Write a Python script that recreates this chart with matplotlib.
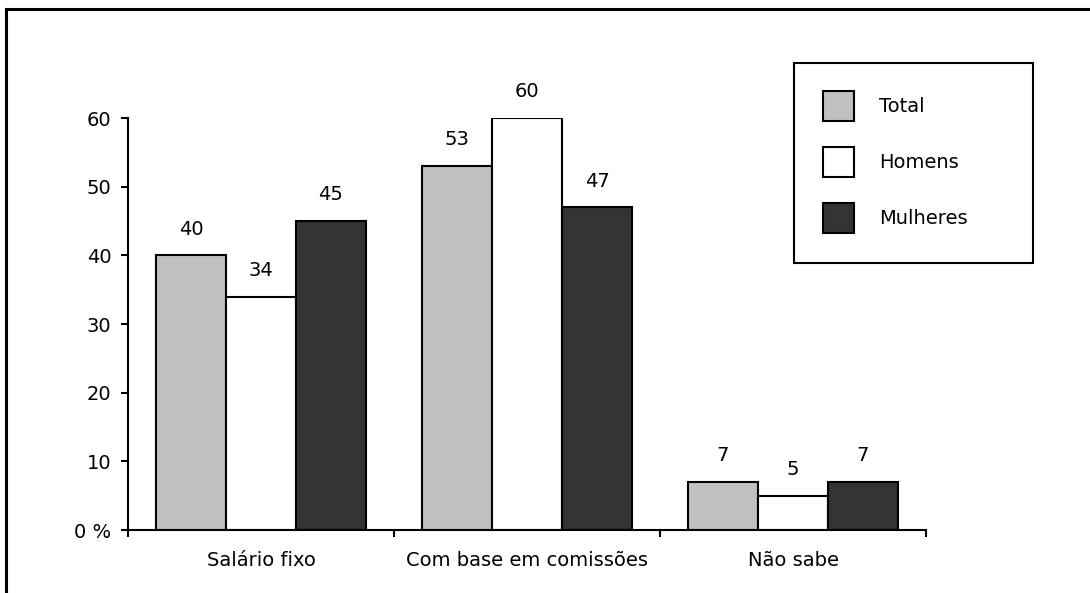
import matplotlib
matplotlib.use("Agg")
import matplotlib.pyplot as plt
from matplotlib.patches import Rectangle, Patch
from matplotlib.lines import Line2D
import numpy as np

categories = ["Salário fixo", "Com base em comissões", "Não sabe"]
series_names = ["Total", "Homens", "Mulheres"]
total = [40, 53, 7]
homens = [34, 60, 5]
mulheres = [45, 47, 7]
y_ticks = [0, 10, 20, 30, 40, 50, 60]
y_tick_labels = ["0 %", "10", "20", "30", "40", "50", "60"]

colors = ["#c0c0c0", "#ffffff", "#333333"]

plt.rcParams["font.family"] = ["DejaVu Sans"]
plt.rcParams["font.size"] = 14

W, H = 1090, 593
fig = plt.figure(figsize=(W / 100, H / 100), dpi=100)

# Outer frame (top and left edges)
fig.add_artist(Line2D([6 / W, 1.0], [1 - 9 / H, 1 - 9 / H], color="black", lw=2.2,
                      transform=fig.transFigure))
fig.add_artist(Line2D([6 / W, 6 / W], [0.0, 1 - 9 / H], color="black", lw=2.2,
                      transform=fig.transFigure))

ax = fig.add_axes([128 / W, 1 - 530 / H, (926 - 128) / W, (530 - 118) / H])

x = np.arange(len(categories))
bw = 0.263
offsets = [-bw, 0, bw]
for vals, off, col, name in zip([total, homens, mulheres], offsets, colors, series_names):
    bars = ax.bar(x + off, vals, width=bw, color=col, edgecolor="black", linewidth=1.5,
                  label=name, zorder=2)
    ax.bar_label(bars, labels=[str(v) for v in vals], padding=12, fontsize=14)

ax.set_xlim(-0.5, 2.5)
ax.set_ylim(0, 60)
ax.set_yticks(y_ticks)
ax.set_yticklabels(y_tick_labels)
ax.set_xticks([-0.5, 0.5, 1.5, 2.5])
ax.set_xticklabels([])
ax.set_xticks(x, minor=True)
ax.set_xticklabels(categories, minor=True)
ax.tick_params(axis="x", which="major", direction="out", length=5, width=1.5)
ax.tick_params(axis="x", which="minor", length=0, pad=15)
ax.tick_params(axis="y", direction="out", length=5, width=1.5, pad=7)

for s in ["top", "right"]:
    ax.spines[s].set_visible(False)
ax.spines["left"].set_linewidth(1.5)
ax.spines["bottom"].set_linewidth(1.5)

# Legend box
fig.add_artist(Rectangle((794 / W, 1 - 263 / H), (1033 - 794) / W, (263 - 63) / H,
                         transform=fig.transFigure, fill=False, edgecolor="black", lw=1.5))
handles = [Patch(facecolor=c, edgecolor="black", linewidth=1.5) for c in colors]
leg = fig.legend(handles, series_names, loc="upper left",
                 bbox_to_anchor=(823 / W, 1 - 91 / H), bbox_transform=fig.transFigure,
                 frameon=False, borderpad=0, borderaxespad=0,
                 handlelength=1.6, handleheight=2.0, handletextpad=1.3,
                 labelspacing=1.34, fontsize=14)

fig.savefig("out.png", dpi=100, facecolor="white")
